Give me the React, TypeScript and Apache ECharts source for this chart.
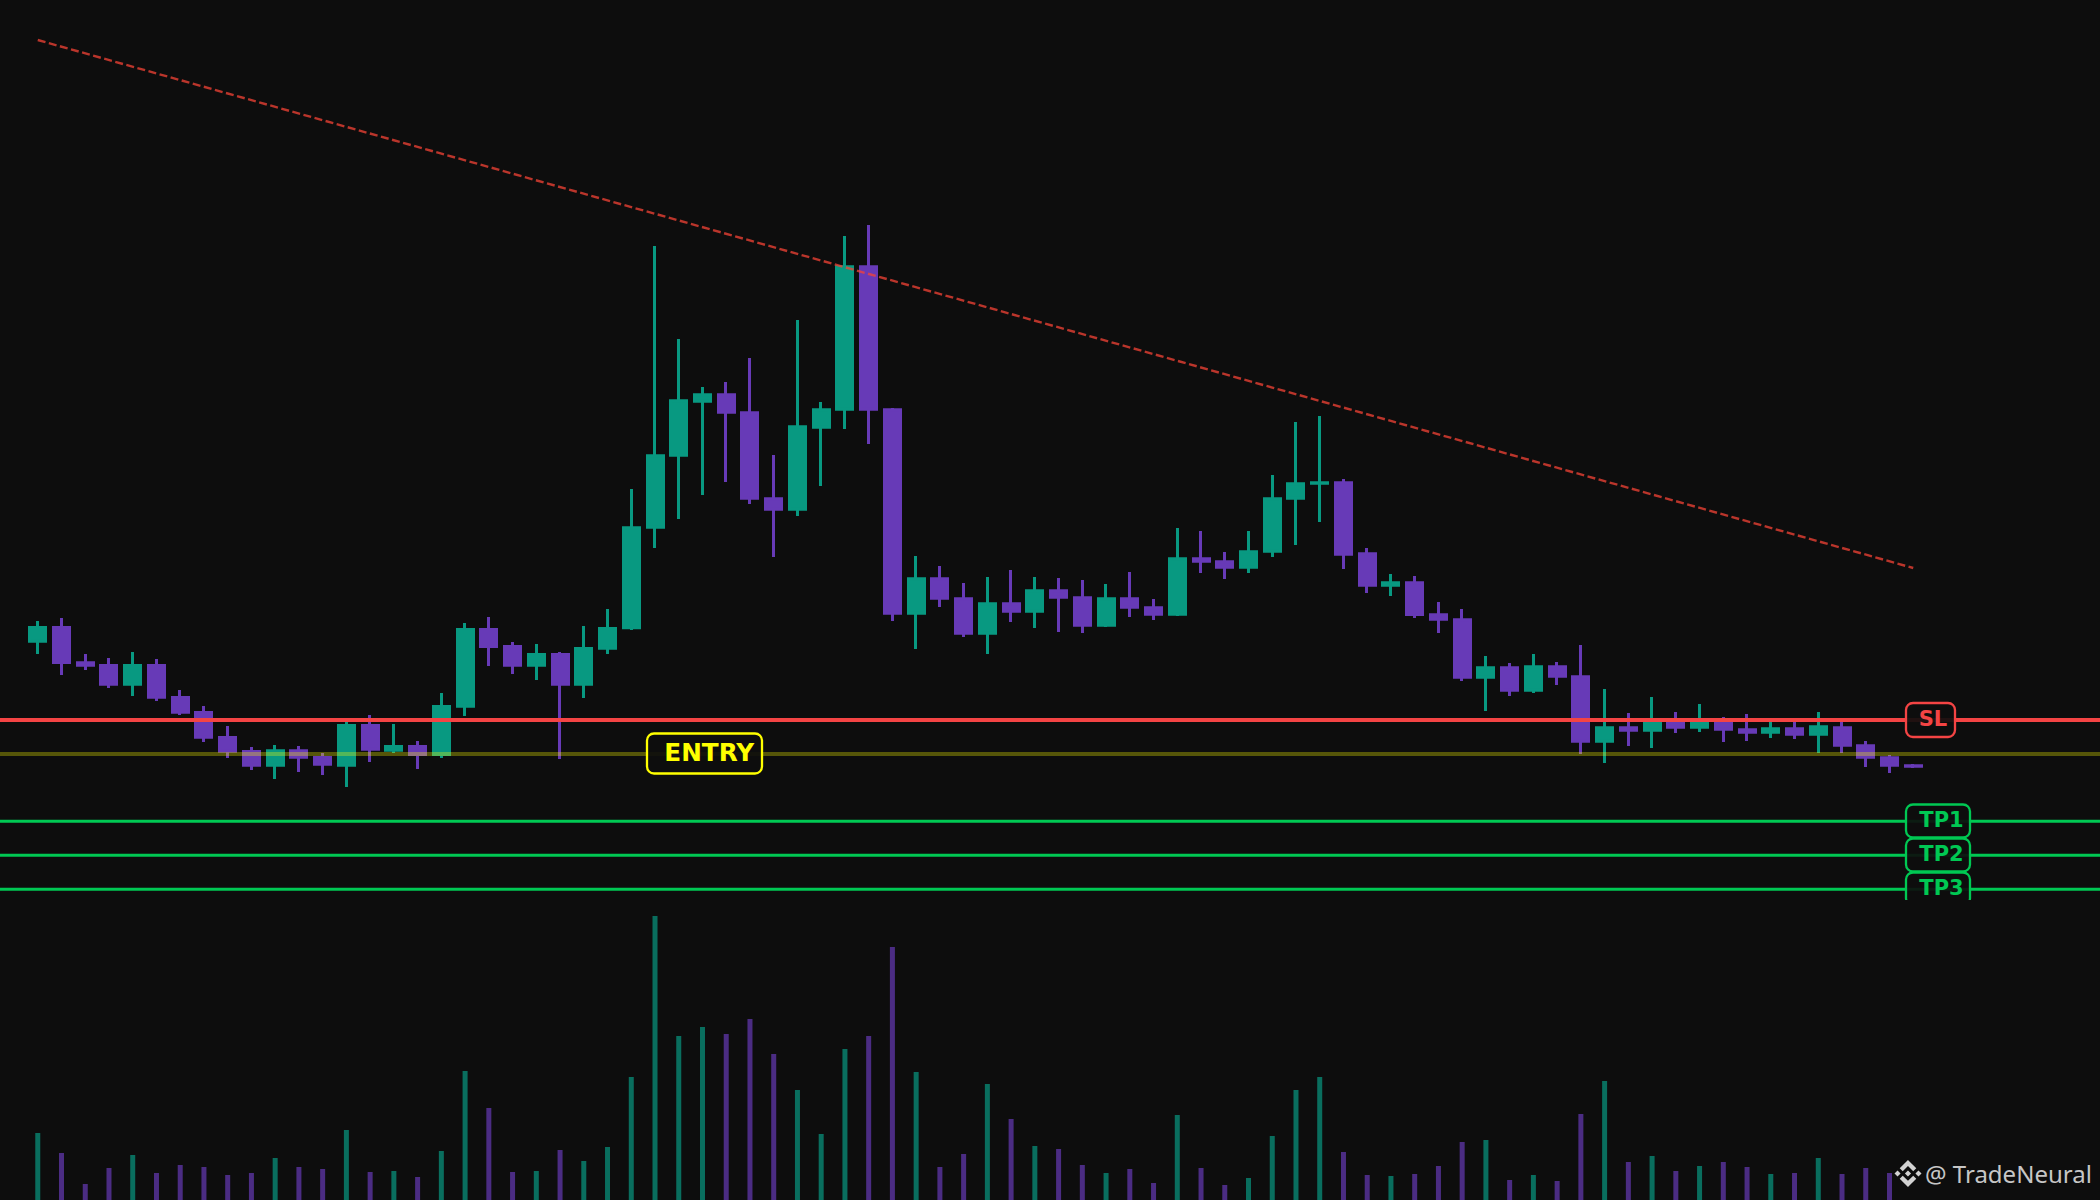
import React, { useEffect, useRef } from "react";
import * as echarts from "echarts";

const opens = [357.3,374,338.7,336,314.3,336,304,289,264,250,233.3,250.7,244,233.3,276,248.3,255,244,292.3,372,355,333.3,347,314.3,350.3,370.7,471.3,543.3,597.3,606.7,588.7,502.7,489.3,571.3,589.3,734.7,591.7,385.3,422.7,402.7,365.3,397.7,387.3,410.7,403.7,373.3,402.7,393.7,384.3,442.7,439.7,431.3,447.3,500.3,515.3,518.7,447.7,413.3,418.7,386.7,381.7,321.3,333.7,308.3,334.7,324.7,257.3,273.7,268.3,281,271.3,280,271.7,266.3,272.7,264.3,273.7,255.7,243.7,235.7];
const closes = [374,336,333.3,314.3,336,301.3,286.3,261.3,247.3,233.3,250.7,241.3,234.3,276,249.3,255,244,295,372,352,333.3,347,314.3,353,373,473.7,545.7,600.7,606.7,586.3,500.3,489.3,574.7,591.7,734.7,589.3,385.3,422.7,400.3,365.3,397.7,387.3,410.7,401.3,373.3,402.7,391.3,384.3,442.7,437.3,431.3,449.7,502.7,517.7,518.7,444.3,413.3,418.7,384,379.3,321.3,333.7,308.3,334.7,322.3,257.3,273.7,268.3,281,271.3,281,269.3,266.3,272.7,264.3,274.7,253.3,241.3,233.3,232.3];
const lows = [346,325,330,312,304,299,285,258,242,230,221,228,225,213,238,247,231,242,284,334,326,320,241,302,346,370,452,481,505,518,496,443,484,514,571,556,379,351,393,363,346,378,372,368,367,373,383,380,384,427,421,427,443,455,478,431,407,404,382,367,319,289,304,307,315,246,237,254,252,267,268,258,259,262,261,247,247,233,227,232];
const highs = [379,382,346,342,348,341,310,294,274,253,255,254,247,278,285,276,259,307,377,383,358,356,348,374,391,511,754,661,613,618,642,545,680,598,764,775,592,444,434,417,423,430,423,422,420,416,428,401,472,469,448,469,525,578,584,521,452,426,424,398,391,344,337,346,338,355,311,287,303,288,296,283,286,281,279,288,280,259,245,236];
const volumes = [67,47,16,32,45,27,35,33,25,27,42,33,31,70,28,29,23,49,129,92,28,29,50,39,53,123,284,164,173,166,181,146,110,66,151,164,253,128,33,46,116,81,54,51,35,27,31,17,85,32,15,22,64,110,123,48,25,24,26,34,58,60,20,25,19,86,119,38,44,29,34,38,33,26,27,42,26,32,27,0];
const categories = opens.map((_, i) => String(i + 1));

const trendPrices = [960, 432];
const slPrice = 280;
const entryPrice = 246;
const tp1Price = 178.7;
const tp2Price = 144.7;
const tp3Price = 110.7;

const BG = "#0d0d0d";
const UP = "#089981";
const DOWN = "#673ab7";
const RED = "#f44444";
const GREEN = "#00c853";
const YELLOW = "#ffff00";
const BODY_STROKE = 3;

const LOGO =
  "M38.73 53.2l24.59-24.58 24.6 24.6 14.3-14.31L63.32 0 24.42 38.9zM0 63.31l14.3-14.31 14.31 14.31-14.31 14.3zM38.73 73.41l24.59 24.59 24.6-24.6 14.31 14.29-.01.01-38.9 38.91-38.9-38.88-.02-.02zM98.28 63.31l14.3-14.3 14.31 14.3-14.31 14.3zM77.83 63.3L63.32 48.78 52.59 59.51l-1.24 1.24-2.54 2.54 14.51 14.5 14.51-14.48z";
echarts.graphic.registerShape("binanceLogo", echarts.graphic.extendPath(LOGO, {}));

const candleData = opens.map((o, i) => {
  // the body's stroke grows it by half its width on each side
  const inset = BODY_STROKE / 2;
  const c = closes[i];
  const up = c >= o;
  const open = up ? o + inset : o - inset;
  const close = up ? c - inset : c + inset;
  return up
    ? [open, Math.max(close, open + 0.01), lows[i], highs[i]]
    : [open, Math.min(close, open - 0.01), lows[i], highs[i]];
});

const volumeData = volumes.map((v, i) => ({
  value: v,
  itemStyle: { color: closes[i] >= opens[i] ? "rgba(8,153,129,0.7)" : "rgba(103,58,183,0.7)" },
}));

function levelSeries(name: string, price: number, color: string, width: number, z: number) {
  return {
    name,
    type: "line",
    xAxisIndex: 2,
    yAxisIndex: 2,
    data: [[0, price], [1, price]],
    showSymbol: false,
    silent: true,
    z,
    lineStyle: { color, width },
  };
}

function badge(
  label: string,
  x: number,
  y: number,
  w: number,
  h: number,
  textX: number,
  textY: number,
  fontSize: number,
  color: string,
) {
  return [
    {
      type: "rect",
      z: 20,
      shape: { x, y, width: w, height: h, r: 7 },
      style: { fill: "rgba(13,13,13,0.92)", stroke: color, lineWidth: 2.3 },
    },
    {
      type: "text",
      z: 21,
      x: textX,
      y: textY,
      style: {
        text: label,
        fill: color,
        fontFamily: "DejaVu Sans",
        fontWeight: "bold",
        fontSize,
        align: "center",
        verticalAlign: "middle",
      },
    },
  ];
}

export default function App() {
  const ref = useRef<HTMLDivElement>(null);
  useEffect(() => {
    document.body.style.margin = "0";
    document.body.style.background = BG;
    const chart = echarts.init(ref.current!, undefined, { renderer: "svg" });
    const plotLeft = 25.9;
    const plotWidth = 1899.2;
    chart.setOption({
      animation: false,
      backgroundColor: BG,
      grid: [
        { left: plotLeft, width: plotWidth, top: 0, height: 900 },
        { left: plotLeft, width: plotWidth, top: 900, height: 300 },
        { left: 0, width: 2100, top: 0, height: 900 },
      ],
      xAxis: [
        { type: "category", gridIndex: 0, data: categories, show: false },
        { type: "category", gridIndex: 1, data: categories, show: false },
        { type: "value", gridIndex: 2, min: 0, max: 1, show: false },
      ],
      yAxis: [
        { type: "value", gridIndex: 0, min: 100, max: 1000, show: false, splitLine: { show: false } },
        { type: "value", gridIndex: 1, min: 0, max: 300, show: false, splitLine: { show: false } },
        { type: "value", gridIndex: 2, min: 100, max: 1000, show: false, splitLine: { show: false } },
      ],
      series: [
        {
          name: "Price",
          type: "candlestick",
          xAxisIndex: 0,
          yAxisIndex: 0,
          data: candleData,
          barWidth: 16.5,
          z: 2,
          itemStyle: {
            color: UP,
            color0: DOWN,
            borderColor: UP,
            borderColor0: DOWN,
            borderWidth: BODY_STROKE,
          },
        },
        levelSeries("Entry", entryPrice, "rgba(255,255,0,0.3)", 4, 3),
        levelSeries("SL", slPrice, RED, 4, 4),
        levelSeries("TP1", tp1Price, GREEN, 3, 4),
        levelSeries("TP2", tp2Price, GREEN, 3, 4),
        levelSeries("TP3", tp3Price, GREEN, 3, 4),
        {
          name: "Trend",
          type: "line",
          xAxisIndex: 0,
          yAxisIndex: 0,
          data: [[0, trendPrices[0]], [79, trendPrices[1]]],
          showSymbol: false,
          silent: true,
          z: 5,
          lineStyle: { color: "rgba(244,67,54,0.75)", width: 2.4, type: [8, 3.5] },
        },
        {
          name: "Volume",
          type: "bar",
          xAxisIndex: 1,
          yAxisIndex: 1,
          data: volumeData,
          barWidth: 5,
          z: 30,
        },
      ],
      graphic: {
        elements: [
          ...badge("ENTRY", 647, 733.5, 115, 40, 709.3, 752, 24.7, YELLOW),
          ...badge("SL", 1906, 703, 49, 34, 1933, 719, 21, RED),
          ...badge("TP1", 1906, 804.5, 64, 33, 1941.5, 819.5, 21, GREEN),
          ...badge("TP2", 1906, 838.5, 64, 33, 1941.5, 853.5, 21, GREEN),
          ...badge("TP3", 1906, 872.5, 64, 33, 1941.5, 887.5, 21, GREEN),
          { type: "rect", z: 25, shape: { x: 0, y: 900, width: 2100, height: 300 }, style: { fill: BG } },
          {
            type: "binanceLogo",
            z: 40,
            x: 1894.5,
            y: 1160,
            scaleX: 0.2133,
            scaleY: 0.2133,
            style: { fill: "#d2d2d2" },
          },
          {
            type: "text",
            z: 40,
            x: 1925,
            y: 1173,
            style: {
              text: "@ TradeNeural",
              fill: "#c6c6c6",
              fontFamily: "Noto Sans",
              fontSize: 24,
              align: "left",
              verticalAlign: "middle",
            },
          },
        ],
      },
    });
    return () => chart.dispose();
  }, []);
  return <div ref={ref} style={{ position: "fixed", left: 0, top: 0, width: 2100, height: 1200 }} />;
}
